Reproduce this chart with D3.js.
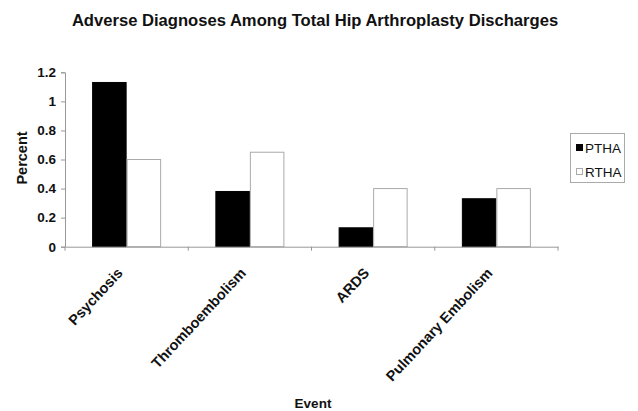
<!DOCTYPE html>
<html><head><meta charset="utf-8">
<script src="https://cdn.jsdelivr.net/npm/d3@7"></script>
<style>body{margin:0;background:#fff}svg{display:block}text{font-family:"Liberation Sans",Arial,sans-serif}</style>
</head><body>
<svg id="c" width="638" height="411"></svg>
<script>
const categories = ["Psychosis","Thromboembolism","ARDS","Pulmonary Embolism"];
const seriesNames = ["PTHA","RTHA"];
const ptha = [1.13,0.38,0.13,0.33];
const rtha = [0.60,0.65,0.40,0.40];
const yTicks = [0,0.2,0.4,0.6,0.8,1,1.2];
const title = "Adverse Diagnoses Among Total Hip Arthroplasty Discharges";

const svg = d3.select("#c");
const pLeft=65, pRight=558, pTop=72.3, pBottom=246.7;
const x0 = d3.scaleBand().domain(categories).range([pLeft,pRight]).paddingInner(0.44).paddingOuter(0.22);
const x1 = d3.scaleBand().domain(seriesNames).range([0,x0.bandwidth()]);
const y = d3.scaleLinear().domain([0,1.2]).range([pBottom,pTop]);
const fills = {PTHA:"#000",RTHA:"#fff"}, strokes={PTHA:"#000",RTHA:"#aaa"};
const data = categories.map((c,i)=>({c, vals:[{s:"PTHA",v:ptha[i]},{s:"RTHA",v:rtha[i]}]}));

svg.append("text").attr("x",315).attr("y",26).attr("text-anchor","middle")
  .attr("font-size",16.6).attr("font-weight","bold").attr("fill","#111").text(title);

// bars
const g = svg.append("g");
g.selectAll("g.grp").data(data).join("g").attr("transform",d=>`translate(${x0(d.c)},0)`)
 .selectAll("rect").data(d=>d.vals).join("rect")
 .attr("x",d=>x1(d.s)+0.5).attr("width",x1.bandwidth()-1)
 .attr("y",d=>y(d.v)).attr("height",d=>pBottom-y(d.v))
 .attr("fill",d=>fills[d.s]).attr("stroke",d=>strokes[d.s]).attr("stroke-width",1);

// y axis
const ya = svg.append("g").attr("transform",`translate(${pLeft},0)`)
  .call(d3.axisLeft(y).tickValues(yTicks).tickFormat(d=>String(d)).tickSize(4).tickPadding(5));
ya.select(".domain").attr("stroke","#999");
ya.selectAll(".tick line").attr("stroke","#999");
ya.selectAll("text").attr("font-size",13.5).attr("font-weight","bold").attr("fill","#111").attr("font-family","Liberation Sans,Arial,sans-serif");

// x axis
const xa = svg.append("g").attr("transform",`translate(0,${pBottom})`)
  .call(d3.axisBottom(x0).tickSize(0).tickFormat(""));
xa.select(".domain").attr("stroke","#999");
const edges = categories.map(c=>x0(c)-x0.step()*x0.paddingInner()/2).concat([pRight]);
xa.selectAll("line.edge").data(edges).join("line").attr("class","edge")
  .attr("x1",d=>d).attr("x2",d=>d).attr("y1",0).attr("y2",4).attr("stroke","#999");
svg.append("g").selectAll("text").data(categories).join("text")
  .attr("transform",d=>`translate(${x0(d)+x0.bandwidth()/2-3},${pBottom+27}) rotate(-47)`)
  .attr("text-anchor","end").attr("font-size",14.5).attr("font-weight","bold").attr("fill","#111").text(d=>d);

svg.append("text").attr("transform",`translate(27,158) rotate(-90)`).attr("text-anchor","middle")
  .attr("font-size",14.5).attr("font-weight","bold").attr("fill","#111").text("Percent");
svg.append("text").attr("x",313).attr("y",408).attr("text-anchor","middle")
  .attr("font-size",13.5).attr("font-weight","bold").attr("fill","#111").text("Event");

// legend
const lg = svg.append("g");
lg.append("rect").attr("x",570.5).attr("y",133.5).attr("width",54).attr("height",49).attr("fill","#fff").attr("stroke","#aaa");
seriesNames.forEach((s,i)=>{
  const cy = 148 + i*24;
  lg.append("rect").attr("x",576.5).attr("y",cy-3.5).attr("width",6).attr("height",6)
    .attr("fill",fills[s]).attr("stroke",strokes[s]);
  lg.append("text").attr("x",585).attr("y",cy+5).attr("font-size",13.5).attr("fill","#111").text(s);
});
</script>
</body></html>
